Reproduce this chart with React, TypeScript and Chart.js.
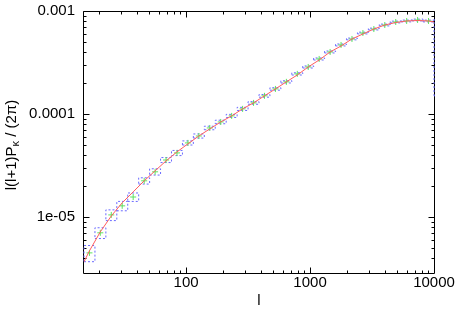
import React, { useEffect, useRef } from 'react';
import { Chart, registerables } from 'chart.js';

Chart.register(...registerables);

// Binned multipole edges (log-uniform bins) and bin centres
const binEdges = [15, 18.38, 22.52, 27.59, 33.81, 41.43, 50.76, 62.2, 76.2, 93.4, 114.4, 140.2, 171.8, 210.5, 257.9, 316.0, 387.2, 474.5, 581.4, 712.3, 872.8, 1069, 1310, 1606, 1967, 2411, 2954, 3619, 4435, 5434, 6658, 8158, 10000, 12250];
const binCenters = [16.6, 20.3, 24.9, 30.5, 37.4, 45.9, 56.2, 68.9, 84.4, 103.4, 126.7, 155.2, 190.2, 233.1, 285.6, 350, 428.8, 525.5, 643.9, 788.9, 966.6, 1184, 1451, 1778, 2179, 2670, 3271, 4009, 4912, 6018, 7374, 9036, 11070];
// Measured band powers and their errors
const measured = [4.47e-6, 7.0e-6, 1.045e-5, 1.28e-5, 1.56e-5, 2.24e-5, 2.74e-5, 3.57e-5, 4.18e-5, 5.23e-5, 6.11e-5, 7.31e-5, 8.36e-5, 9.57e-5, 1.12e-4, 1.28e-4, 1.50e-4, 1.75e-4, 2.05e-4, 2.45e-4, 2.86e-4, 3.42e-4, 4.00e-4, 4.68e-4, 5.35e-4, 6.11e-4, 6.68e-4, 7.31e-4, 7.82e-4, 8.00e-4, 8.18e-4, 8.00e-4, 4.85e-4];
const errors = [0.80e-6, 0.84e-6, 1.25e-6, 1.34e-6, 1.47e-6, 1.57e-6, 1.92e-6, 2.0e-6, 2.4e-6, 2.4e-6, 2.8e-6, 2.9e-6, 3.3e-6, 3.3e-6, 3.9e-6, 3.8e-6, 4.5e-6, 4.9e-6, 5.1e-6, 6.1e-6, 6.6e-6, 7.9e-6, 8.8e-6, 1.03e-5, 1.07e-5, 1.22e-5, 1.34e-5, 1.46e-5, 1.56e-5, 1.6e-5, 1.64e-5, 1.6e-5, 3.35e-4];
// Theory curve
const theoryL = [15, 16.6, 20.3, 24.9, 30.5, 37.4, 45.9, 56.2, 68.9, 84.4, 103.4, 126.7, 155.2, 190.2, 233.1, 285.6, 350, 428.8, 525.5, 643.9, 788.9, 966.6, 1184, 1451, 1778, 2179, 2670, 3271, 4009, 4912, 6018, 7374, 9036, 10000];
const theoryP = [3.66e-6, 4.68e-6, 7.15e-6, 1.02e-5, 1.37e-5, 1.75e-5, 2.24e-5, 2.80e-5, 3.50e-5, 4.28e-5, 5.12e-5, 6.11e-5, 7.15e-5, 8.36e-5, 9.57e-5, 1.12e-4, 1.28e-4, 1.50e-4, 1.75e-4, 2.05e-4, 2.39e-4, 2.86e-4, 3.34e-4, 4.00e-4, 4.57e-4, 5.35e-4, 5.98e-4, 6.68e-4, 7.31e-4, 7.73e-4, 8.00e-4, 8.09e-4, 8.00e-4, 7.82e-4];

const xLabels: Record<string, string> = { '2': '100', '3': '1000', '4': '10000' };
const yLabels: Record<string, string> = { '-3': '0.001', '-4': '0.0001', '-5': '1e-05' };

const FONT = '"Liberation Sans", Arial, Helvetica, sans-serif';

function pow10Exp(v: number): number | null {
  const l = Math.log10(v);
  const r = Math.round(l);
  return Math.abs(l - r) < 1e-6 ? r : null;
}
function isNice(v: number): boolean {
  const e = Math.floor(Math.log10(v) + 1e-9);
  const m = v / Math.pow(10, e);
  return Math.abs(m - Math.round(m)) < 1e-6;
}

const framePlugin = {
  id: 'frameTicks',
  beforeDatasetsDraw(chart: any) {
    const { ctx, chartArea } = chart;
    const { left, right, top, bottom } = chartArea;
    const xs = chart.scales.x;
    const ys = chart.scales.y;
    ctx.save();
    ctx.strokeStyle = '#000';
    ctx.lineWidth = 1;
    ctx.beginPath();
    const L = left - 0.5, R = right + 0.5, T = top + 0.5, B = bottom + 0.5;
    ctx.rect(L, T, R - L, B - T);
    ctx.stroke();
    ctx.beginPath();
    for (const t of xs.ticks) {
      const v = t.value;
      if (!isNice(v)) continue;
      const px = Math.round(xs.getPixelForValue(v)) + 0.5;
      if (px < L + 1 || px > R - 1) continue;
      const len = pow10Exp(v) !== null ? 6 : 3;
      ctx.moveTo(px, B); ctx.lineTo(px, B - len);
      ctx.moveTo(px, T); ctx.lineTo(px, T + len);
    }
    for (const t of ys.ticks) {
      const v = t.value;
      if (!isNice(v)) continue;
      const py = Math.round(ys.getPixelForValue(v)) + 0.5;
      if (py < T || py > B - 1) continue;
      const len = pow10Exp(v) !== null ? 6 : 3;
      ctx.moveTo(L, py); ctx.lineTo(L + len, py);
      ctx.moveTo(R, py); ctx.lineTo(R - len, py);
    }
    ctx.stroke();
    ctx.restore();
  },
  afterDraw(chart: any) {
    const { ctx, chartArea } = chart;
    const { left, right } = chartArea;
    ctx.save();
    ctx.fillStyle = '#000';
    ctx.textBaseline = 'middle';
    ctx.textAlign = 'left';
    const mainF = '15px ' + FONT;
    const subF = '11px ' + FONT;
    const parts: [string, string, number][] = [
      ['l(l+1)P', mainF, 0],
      ['\u03BA', subF, 4],
      [' / (2\u03C0)', mainF, 0],
    ];
    let total = 0;
    for (const p of parts) { ctx.font = p[1]; total += ctx.measureText(p[0]).width; }
    ctx.save();
    ctx.translate(12, 145);
    ctx.rotate(-Math.PI / 2);
    let x = -total / 2;
    for (const p of parts) {
      ctx.font = p[1];
      ctx.fillText(p[0], x, p[2]);
      x += ctx.measureText(p[0]).width;
    }
    ctx.restore();

    ctx.font = mainF;
    ctx.textAlign = 'center';
    ctx.fillText('l', (left + right) / 2, 301);
    ctx.restore();
  },
};

export default function App() {
  const ref = useRef<HTMLCanvasElement>(null);
  useEffect(() => {
    const canvas = ref.current!;
    const boxes: any[] = [];
    for (let i = 0; i < measured.length; i++) {
      const lo = binEdges[i], hi = binEdges[i + 1];
      const y0 = measured[i] - errors[i], y1 = measured[i] + errors[i];
      boxes.push({ x: lo, y: y0 }, { x: hi, y: y0 }, { x: hi, y: y1 }, { x: lo, y: y1 }, { x: lo, y: y0 }, { x: hi, y: null });
    }
    const points = binCenters.map((l, i) => ({ x: l, y: measured[i] }));
    const theory = theoryL.map((l, i) => ({ x: l, y: theoryP[i] }));

    const chart = new Chart(canvas, {
      type: 'line',
      data: {
        datasets: [
          {
            label: 'theory',
            data: theory,
            borderColor: '#ff5c5c',
            borderWidth: 1,
            pointRadius: 0,
            fill: false,
            order: 1,
          } as any,
          {
            label: 'measured',
            data: points,
            showLine: false,
            pointStyle: 'cross',
            pointRadius: 3,
            borderColor: '#5fe35f',
            pointBorderWidth: 1,
            order: 2,
          } as any,
          {
            label: 'errors',
            data: boxes,
            borderColor: '#6a6aff',
            borderWidth: 1,
            borderDash: [2, 2],
            pointRadius: 0,
            spanGaps: false,
            fill: false,
            clip: { left: 1, right: 1, top: 0, bottom: 0 },
            order: 3,
          } as any,
        ],
      },
      options: {
        animation: false,
        responsive: false,
        devicePixelRatio: 1,
        events: [],
        layout: { padding: { left: 0, right: 29, top: 11, bottom: 0 } },
        plugins: { legend: { display: false }, tooltip: { enabled: false } },
        scales: {
          x: {
            type: 'logarithmic',
            min: 15,
            max: 10000,
            grid: { display: false, drawTicks: false },
            border: { display: false },
            ticks: {
              autoSkip: false,
              maxRotation: 0,
              padding: 1,
              color: '#000',
              font: { family: FONT, size: 15 },
              callback: (v: any) => {
                const e = pow10Exp(Number(v));
                return e !== null && xLabels[String(e)] ? xLabels[String(e)] : '';
              },
            },
            afterFit: (s: any) => { s.height = 46; s.paddingLeft = 0; s.paddingRight = 0; },
          },
          y: {
            type: 'logarithmic',
            min: 2.85e-6,
            max: 1e-3,
            grid: { display: false, drawTicks: false },
            border: { display: false },
            ticks: {
              autoSkip: false,
              padding: 9,
              color: '#000',
              font: { family: FONT, size: 15 },
              callback: (v: any) => {
                const e = pow10Exp(Number(v));
                return e !== null && yLabels[String(e)] ? yLabels[String(e)] : '';
              },
            },
            afterFit: (s: any) => { s.width = 84; s.paddingTop = 0; s.paddingBottom = 0; },
          },
        },
      } as any,
      plugins: [framePlugin],
    });
    return () => chart.destroy();
  }, []);
  return (
    <div style={{ position: 'absolute', left: 0, top: 0, width: 463, height: 319, background: '#fff' }}>
      <canvas ref={ref} width={463} height={319} style={{ display: 'block', width: 463, height: 319 }} />
    </div>
  );
}
